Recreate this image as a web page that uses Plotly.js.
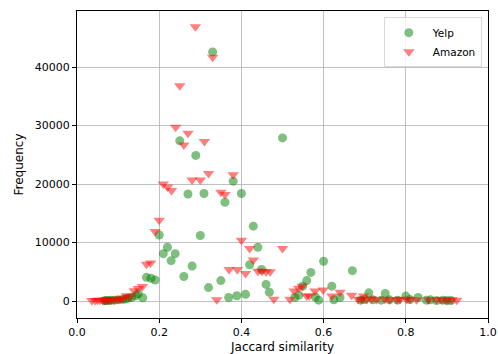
<!DOCTYPE html>
<html>
<head>
<meta charset="utf-8">
<script src="https://cdn.plot.ly/plotly-3.0.1.min.js"></script>
<style>html,body{margin:0;padding:0;background:#fff;}#chart{width:498px;height:354px;}</style>
</head>
<body>
<div id="chart"></div>
<script>
// Yelp series
const yelpX = [0.067,0.071,0.077,0.083,0.091,0.1,0.111,0.118,0.125,0.133,0.143,0.149,0.16,0.169,0.18,0.19,0.2,0.21,0.22,0.229,0.239,0.25,0.26,0.27,0.28,0.289,0.3,0.309,0.32,0.33,0.35,0.36,0.369,0.38,0.389,0.4,0.41,0.42,0.429,0.44,0.449,0.46,0.468,0.5,0.53,0.54,0.549,0.559,0.569,0.58,0.588,0.6,0.62,0.625,0.64,0.67,0.69,0.7,0.71,0.72,0.74,0.75,0.76,0.78,0.8,0.81,0.83,0.85,0.86,0.875,0.89,0.9,0.91];
const yelpY = [60,80,100,120,150,200,300,350,500,600,900,1250,550,4050,3900,3600,11300,8100,9200,6900,8100,27400,4200,18300,6000,24900,11200,18400,2300,42600,3500,16900,600,20500,900,18400,1150,6200,12800,9200,5400,2850,1500,27900,600,1000,2550,3500,4900,700,150,6800,2550,200,600,5200,150,250,1400,200,150,1300,200,150,850,250,600,150,200,100,150,100,80];
// Amazon series
const amazonX = [0.036,0.044,0.05,0.056,0.063,0.067,0.071,0.077,0.083,0.091,0.1,0.105,0.111,0.12,0.129,0.139,0.149,0.159,0.169,0.179,0.19,0.2,0.21,0.22,0.23,0.24,0.25,0.26,0.27,0.28,0.288,0.3,0.31,0.32,0.33,0.34,0.35,0.36,0.37,0.38,0.39,0.4,0.41,0.42,0.429,0.44,0.45,0.46,0.47,0.479,0.5,0.518,0.528,0.539,0.548,0.559,0.565,0.579,0.599,0.62,0.64,0.668,0.697,0.684,0.692,0.705,0.717,0.729,0.749,0.761,0.778,0.786,0.802,0.81,0.826,0.855,0.875,0.887,0.9,0.912,0.924];
const amazonY = [100,100,120,130,150,150,180,200,220,250,300,350,400,900,750,1750,2150,2500,6300,6500,11900,13800,20000,19500,18900,29700,36800,26700,28700,20700,46900,20700,27300,21800,41700,200,18600,18200,5400,21600,5400,10400,4700,9000,7000,5100,5100,5000,5000,300,9000,300,1700,2200,2550,850,850,1700,1900,850,1500,1000,850,300,250,250,400,250,300,200,250,300,250,300,200,200,250,200,150,200,150];

const traces = [
  {x: yelpX, y: yelpY, name: 'Yelp', type: 'scatter', mode: 'markers',
   marker: {symbol: 'circle', size: 9, color: 'rgba(0,128,0,0.5)', line: {width: 0}}},
  {x: amazonX, y: amazonY, name: 'Amazon', type: 'scatter', mode: 'markers',
   marker: {symbol: 'triangle-down', size: 10, color: 'rgba(255,0,0,0.5)', line: {width: 0}}}
];

const axisCommon = {
  showline: true, mirror: true, linecolor: '#000', linewidth: 1,
  showgrid: true, gridcolor: '#b0b0b0', gridwidth: 0.8,
  ticks: 'outside', ticklen: 4, tickcolor: '#000', tickwidth: 1,
  zeroline: false,
  tickfont: {family: 'DejaVu Sans', size: 11, color: '#000'}
};

const layout = {
  width: 498, height: 354,
  margin: {l: 77, r: 10, t: 11, b: 36},
  paper_bgcolor: '#fff', plot_bgcolor: '#fff',
  font: {family: 'DejaVu Sans', color: '#000'},
  xaxis: Object.assign({}, axisCommon, {
    range: [0, 1], tickvals: [0,0.2,0.4,0.6,0.8,1.0], ticktext: ['0.0','0.2','0.4','0.6','0.8','1.0'],
    title: {text: 'Jaccard similarity', font: {family: 'DejaVu Sans', size: 12, color: '#000'}, standoff: 4}
  }),
  yaxis: Object.assign({}, axisCommon, {
    range: [-2900, 49600], tickvals: [0,10000,20000,30000,40000],
    ticktext: ['0','10000','20000','30000','40000'],
    title: {text: 'Frequency', font: {family: 'DejaVu Sans', size: 12, color: '#000'}, standoff: 8}
  }),
  showlegend: true,
  legend: {x: 0.985, y: 0.98, xanchor: 'right', yanchor: 'top',
    bgcolor: 'rgba(255,255,255,0.8)', bordercolor: '#d9d9d9', borderwidth: 1,
    itemwidth: 38, tracegroupgap: 0,
    font: {family: 'DejaVu Sans', size: 10.5, color: '#000'}}
};

Plotly.newPlot('chart', traces, layout, {displayModeBar: false, staticPlot: true});
</script>
</body>
</html>
